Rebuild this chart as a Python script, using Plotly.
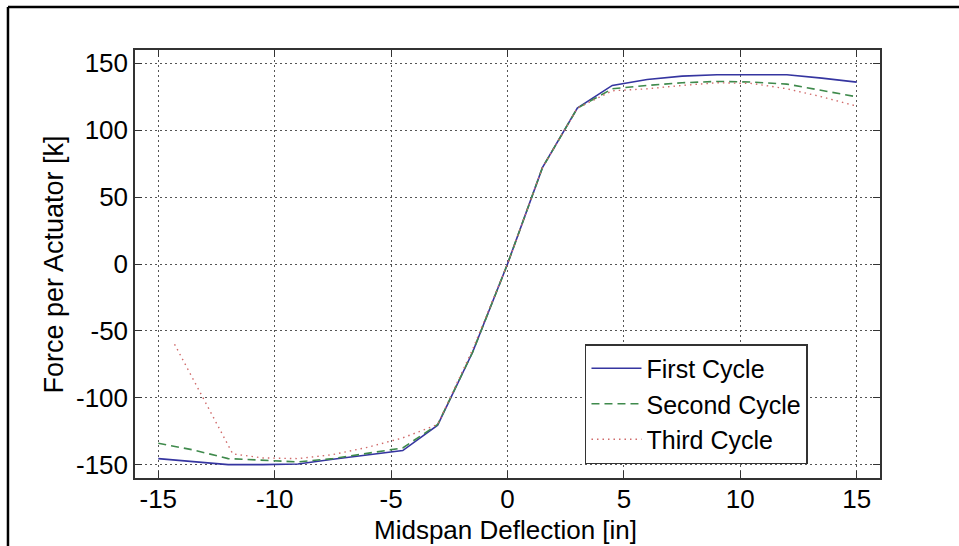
import plotly.graph_objects as go

# backbone curves
x_first = [-15, -13.5, -12, -10.5, -9, -7.5, -6, -4.5, -3, -1.5, 0,
           1.5, 3, 4.5, 6, 7.5, 9, 10.5, 12, 13.5, 15]
y_first = [-145.5, -147.5, -150, -150, -149.5, -146, -143, -139.5, -120.5, -66, 0,
           72, 116.5, 133.5, 138, 140.5, 141.5, 141.5, 141.5, 139, 136]

x_second = [-15, -13.5, -12, -10.5, -9, -7.5, -6, -4.5, -3, -1.5, 0,
            1.5, 3, 4.5, 6, 7.5, 9, 10.5, 12, 13.5, 15]
y_second = [-134, -139, -145.5, -147, -148, -145.5, -141.5, -137.5, -120, -66, 0,
            72, 116.5, 131, 133.5, 135.5, 136.5, 136, 134.5, 130, 125]

x_third = [-14.3, -11.8, -10.5, -9, -7.5, -6, -4.5, -3, -1.5, 0,
           1.5, 3, 4.5, 6, 7.5, 9, 10.5, 12, 13.5, 15]
y_third = [-60, -142, -145, -145.5, -142.5, -137, -130, -120, -64, 0,
           72, 116.5, 129.5, 131, 133.5, 135.5, 135, 131, 125, 118]

x_ticks = [-15, -10, -5, 0, 5, 10, 15]
y_ticks = [-150, -100, -50, 0, 50, 100, 150]

x_title = 'Midspan Deflection [in]'
y_title = 'Force per Actuator [k]'

font_family = "Liberation Sans, Arial, sans-serif"

fig = go.Figure()
fig.add_trace(go.Scatter(x=x_first, y=y_first, mode='lines', name='First Cycle',
                         line=dict(color='#3535a0', width=1.6)))
fig.add_trace(go.Scatter(x=x_second, y=y_second, mode='lines', name='Second Cycle',
                         line=dict(color='#3f8a4c', width=1.6, dash='8px,5px')))
fig.add_trace(go.Scatter(x=x_third, y=y_third, mode='lines', name='Third Cycle',
                         line=dict(color='#d06a6a', width=1.4, dash='1.5px,4px')))

axis_common = dict(
    showline=True, linecolor='#333333', linewidth=1.5, mirror='ticks',
    ticks='inside', ticklen=7, tickwidth=1.2, tickcolor='#333333',
    showgrid=True, gridcolor='#555555', gridwidth=1, griddash='1.5px,3.5px',
    zeroline=False,
    tickfont=dict(family=font_family, size=26, color='black'),
)

fig.update_layout(
    width=959, height=546,
    margin=dict(l=135, r=79, t=50, b=68),
    paper_bgcolor='white', plot_bgcolor='white',
    font=dict(family=font_family, size=26, color='black'),
    xaxis=dict(range=[-16, 16], tickvals=x_ticks, ticklabelstandoff=-3,
               ticktext=[str(v) for v in x_ticks], **axis_common),
    yaxis=dict(range=[-160, 160], tickvals=y_ticks,
               ticktext=[str(v) for v in y_ticks], **axis_common),
    legend=dict(x=0.604, y=0.313, xanchor='left', yanchor='top',
                bgcolor='white', bordercolor='#333333', borderwidth=1.5,
                font=dict(family=font_family, size=25, color='black'),
                itemwidth=50, tracegroupgap=0),
    showlegend=True,
)

# axis titles as annotations so they sit where the reference has them
fig.add_annotation(text=x_title, xref='paper', yref='paper', x=0.4973, y=-0.1215,
                   xanchor='center', yanchor='middle', showarrow=False,
                   font=dict(family=font_family, size=26, color='black'))
fig.add_annotation(text=y_title, xref='paper', yref='paper', x=-0.110, y=0.4988,
                   xanchor='center', yanchor='middle', showarrow=False, textangle=-90,
                   font=dict(family=font_family, size=27, color='black'))

# outer black frame of the figure (top and left edges visible)
fig.add_shape(type='line', xref='paper', yref='paper',
              x0=-0.1705, x1=1.2, y0=1.1005, y1=1.1005,
              line=dict(color='black', width=2.5))
fig.add_shape(type='line', xref='paper', yref='paper',
              x0=-0.1705, x1=-0.1705, y0=1.1005, y1=-0.2,
              line=dict(color='black', width=2.5))

fig.write_html("out.html", config={'displayModeBar': False},
               post_script="document.body.style.margin='0';document.body.style.overflow='hidden';")
